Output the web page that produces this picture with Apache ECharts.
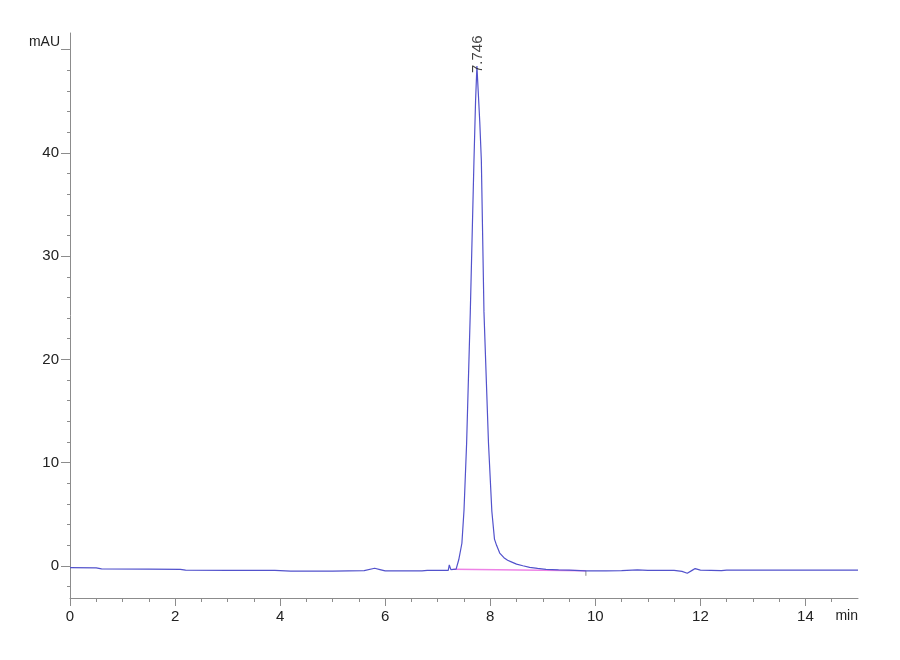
<!DOCTYPE html>
<html>
<head>
<meta charset="utf-8">
<script src="https://cdn.jsdelivr.net/npm/echarts@6/dist/echarts.min.js"></script>
<style>
html,body{margin:0;padding:0;background:#fff;}
#chart{width:900px;height:660px;}
</style>
</head>
<body>
<div id="chart"></div>
<script>
// Retention time (min) and absorbance (mAU)
var times = [0, 0.5, 0.6, 1.5, 2.1, 2.2, 3.0, 3.9, 4.2, 5.0, 5.6, 5.8, 5.9, 6.0, 6.7, 6.8, 7.2,
  7.22, 7.25, 7.35, 7.40, 7.46, 7.50, 7.55, 7.62, 7.69, 7.72, 7.746, 7.77, 7.80, 7.83, 7.88,
  7.966, 8.03, 8.08, 8.12, 8.18, 8.26, 8.33, 8.40, 8.50, 8.62, 8.75, 8.90, 9.06, 9.30, 9.50, 9.82,
  10.2, 10.5, 10.8, 11.0, 11.5, 11.65, 11.75, 11.85, 11.9, 12.0, 12.4, 12.5, 13.5, 15.0];
var signal = [-0.15, -0.18, -0.28, -0.30, -0.32, -0.40, -0.42, -0.42, -0.50, -0.50, -0.45, -0.22, -0.35, -0.48, -0.48, -0.42, -0.42,
  0.10, -0.35, -0.30, 0.60, 2.2, 5.4, 11.9, 24.6, 39.3, 45.0, 48.4, 46.0, 43.0, 39.3, 24.6,
  11.9, 5.3, 2.6, 2.0, 1.25, 0.80, 0.55, 0.40, 0.18, 0.02, -0.13, -0.24, -0.32, -0.38, -0.41, -0.47,
  -0.47, -0.45, -0.38, -0.42, -0.42, -0.52, -0.70, -0.40, -0.25, -0.40, -0.45, -0.40, -0.40, -0.40];
// Integration baseline (start / end)
var baseTimes = [7.30, 9.82];
var baseValues = [-0.32, -0.47];
// Peak annotation
var peakTimes = [7.746];
var peakHeights = [48.4];
var peakLabels = ['7.746'];
// Integration end marker
var endMarkTimes = [9.82, 9.82];
var endMarkValues = [-0.47, -0.95];
// Axis ticks
var xMajorTicks = [0, 2, 4, 6, 8, 10, 12, 14];
var xMinorTicks = [0.5, 1, 1.5, 2.5, 3, 3.5, 4.5, 5, 5.5, 6.5, 7, 7.5, 8.5, 9, 9.5, 10.5, 11, 11.5, 12.5, 13, 13.5, 14.5];
var yMajorTicks = [0, 10, 20, 30, 40, 50];
var yLabelTicks = [0, 10, 20, 30, 40];
var yMinorTicks = [-2, 2, 4, 6, 8, 12, 14, 16, 18, 22, 24, 26, 28, 32, 34, 36, 38, 42, 44, 46, 48];

function zip(a, b) { return a.map(function (v, i) { return [v, b[i]]; }); }

var font = "'Liberation Sans', Arial, sans-serif";
var axisColor = '#8c8c8c';
var chart = echarts.init(document.getElementById('chart'));
chart.setOption({
  animation: false,
  backgroundColor: '#ffffff',
  grid: { left: 70, right: 42, top: 33, bottom: 62 },
  xAxis: [{
    type: 'value', min: 0, max: 15, position: 'bottom',
    axisLine: { onZero: false, lineStyle: { color: axisColor, width: 1 } },
    axisTick: { customValues: xMajorTicks, length: 8, lineStyle: { color: axisColor } },
    axisLabel: { customValues: xMajorTicks, margin: 11, color: '#222', fontSize: 15, fontFamily: font },
    splitLine: { show: false },
    name: 'min', nameLocation: 'end', nameGap: 0,
    nameTextStyle: { align: 'right', verticalAlign: 'top', padding: [11, 0, 0, 0], color: '#222', fontSize: 14, fontFamily: font }
  }, {
    type: 'value', min: 0, max: 15, position: 'bottom',
    axisLine: { show: false, onZero: false },
    axisTick: { customValues: xMinorTicks, length: 4, lineStyle: { color: axisColor } },
    axisLabel: { show: false },
    splitLine: { show: false }
  }],
  yAxis: [{
    type: 'value', min: -3.1, max: 51.6, position: 'left',
    axisLine: { show: true, onZero: false, lineStyle: { color: axisColor, width: 1 } },
    axisTick: { show: true, customValues: yMajorTicks, length: 9, lineStyle: { color: axisColor } },
    axisLabel: { customValues: yLabelTicks, margin: 11, color: '#222', fontSize: 15, fontFamily: font },
    splitLine: { show: false },
    name: 'mAU', nameLocation: 'end', nameGap: -9,
    nameTextStyle: { align: 'right', verticalAlign: 'middle', padding: [0, 10, 0, 0], color: '#222', fontSize: 14, fontFamily: font }
  }, {
    type: 'value', min: -3.1, max: 51.6, position: 'left',
    axisLine: { show: false, onZero: false },
    axisTick: { show: true, customValues: yMinorTicks, length: 3, lineStyle: { color: axisColor } },
    axisLabel: { show: false },
    splitLine: { show: false }
  }],
  series: [{
    name: 'baseline', type: 'line', xAxisIndex: 0, yAxisIndex: 0,
    data: zip(baseTimes, baseValues), showSymbol: false,
    lineStyle: { color: '#ee82e6', width: 1.5 }, z: 2
  }, {
    name: 'trace', type: 'line', xAxisIndex: 0, yAxisIndex: 0,
    data: zip(times, signal), showSymbol: false,
    lineStyle: { color: '#5252cc', width: 1.2 }, z: 3
  }, {
    name: 'endmark', type: 'line', xAxisIndex: 0, yAxisIndex: 0,
    data: zip(endMarkTimes, endMarkValues), showSymbol: false,
    lineStyle: { color: '#888', width: 1 }, z: 2
  }, {
    name: 'peak', type: 'scatter', xAxisIndex: 0, yAxisIndex: 0,
    data: peakTimes.map(function (t, i) { return { value: [t, peakHeights[i]], name: peakLabels[i] }; }),
    symbolSize: 0, z: 4,
    label: {
      show: true, position: 'inside', rotate: 90, align: 'left', verticalAlign: 'middle',
      offset: [-7, 1], formatter: '{b}', color: '#111', fontSize: 15,
      fontFamily: font
    }
  }]
});
</script>
</body>
</html>
